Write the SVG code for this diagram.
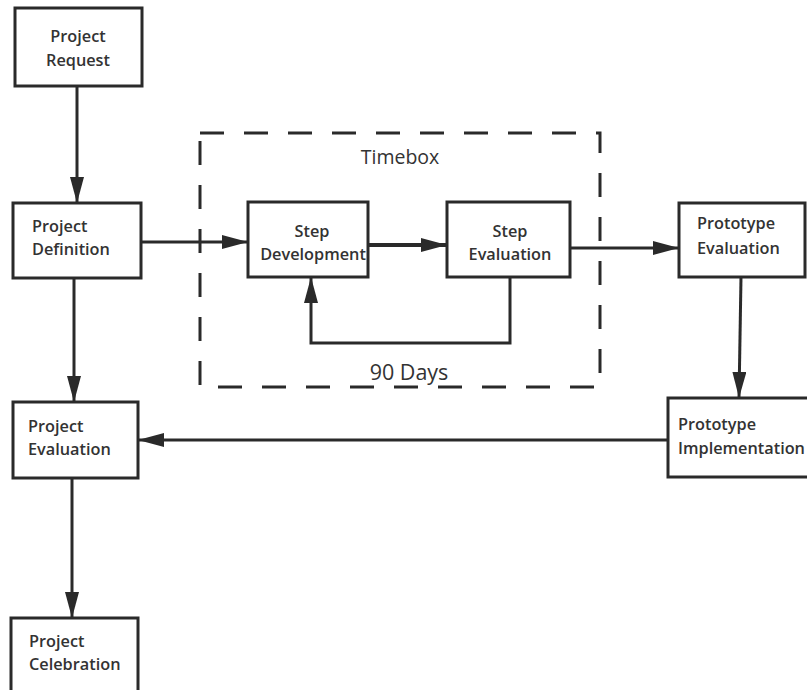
<svg xmlns="http://www.w3.org/2000/svg" width="807" height="690" viewBox="0 0 807 690">
  <style>
    .box { fill: #ffffff; stroke: #2a2a2a; stroke-width: 3; }
    .lbl { font-family: "Open Sans", "DejaVu Sans", sans-serif; font-size: 16.3px; font-weight: 600; fill: #333333; }
    .mid { text-anchor: middle; }
    .cap { font-family: "Open Sans", "DejaVu Sans", sans-serif; fill: #333333; text-anchor: middle; }
    .edge { fill: none; stroke: #2a2a2a; stroke-width: 3; }
    .frame { fill: none; stroke: #2a2a2a; stroke-width: 3; stroke-dasharray: 24 20; }
  </style>
  <defs>
    <marker id="arrow" viewBox="0 0 26 14" refX="26" refY="7" markerWidth="26" markerHeight="14" markerUnits="userSpaceOnUse" orient="auto">
      <path d="M0,0 L26,7 L0,14 Z" fill="#2a2a2a"/>
    </marker>
  </defs>

  <!-- timebox frame -->
  <g id="timebox">
    <rect class="frame" x="200" y="133" width="400" height="254"/>
    <text class="cap" x="400" y="164" font-size="19.5px">Timebox</text>
    <text class="cap" x="409" y="380" font-size="21.5px">90 Days</text>
  </g>

  <g id="connectors">
    <line class="edge" x1="77" y1="86" x2="77" y2="203" marker-end="url(#arrow)"/>
    <line class="edge" x1="141" y1="242" x2="248" y2="242" marker-end="url(#arrow)"/>
    <line class="edge" x1="368" y1="245" x2="447" y2="245" marker-end="url(#arrow)" style="stroke-width:4"/>
    <polyline class="edge" points="510,277 510,343 311,343 311,277" marker-end="url(#arrow)"/>
    <line class="edge" x1="570" y1="248" x2="679" y2="248" marker-end="url(#arrow)"/>
    <line class="edge" x1="741" y1="277" x2="739" y2="398" marker-end="url(#arrow)"/>
    <line class="edge" x1="668" y1="440" x2="138" y2="440" marker-end="url(#arrow)"/>
    <line class="edge" x1="74" y1="278" x2="74" y2="402" marker-end="url(#arrow)"/>
    <line class="edge" x1="72" y1="478" x2="72" y2="618" marker-end="url(#arrow)"/>
  </g>

  <g id="project-request">
    <rect class="box" x="15" y="8" width="127" height="78"/>
    <text class="lbl mid" x="78" y="42">Project</text>
    <text class="lbl mid" x="78" y="66">Request</text>
  </g>

  <g id="project-definition">
    <rect class="box" x="13" y="203" width="128" height="75"/>
    <text class="lbl" x="32" y="232">Project</text>
    <text class="lbl" x="32" y="255">Definition</text>
  </g>

  <g id="step-development">
    <rect class="box" x="248" y="202" width="120" height="75"/>
    <text class="lbl mid" x="312" y="237">Step</text>
    <text class="lbl mid" x="313" y="260">Development</text>
  </g>

  <g id="step-evaluation">
    <rect class="box" x="447" y="202" width="123" height="75"/>
    <text class="lbl mid" x="510" y="237">Step</text>
    <text class="lbl mid" x="510" y="260">Evaluation</text>
  </g>

  <g id="prototype-evaluation">
    <rect class="box" x="679" y="203" width="126" height="74"/>
    <text class="lbl" x="697" y="229">Prototype</text>
    <text class="lbl" x="697" y="254">Evaluation</text>
  </g>

  <g id="prototype-implementation">
    <rect class="box" x="668" y="398" width="145" height="79"/>
    <text class="lbl" x="678" y="430">Prototype</text>
    <text class="lbl" x="678" y="454">Implementation</text>
  </g>

  <g id="project-evaluation">
    <rect class="box" x="13" y="402" width="125" height="76"/>
    <text class="lbl" x="28" y="432">Project</text>
    <text class="lbl" x="28" y="455">Evaluation</text>
  </g>

  <g id="project-celebration">
    <rect class="box" x="11" y="618" width="127" height="80"/>
    <text class="lbl" x="29" y="647">Project</text>
    <text class="lbl" x="29" y="670">Celebration</text>
  </g>
</svg>
